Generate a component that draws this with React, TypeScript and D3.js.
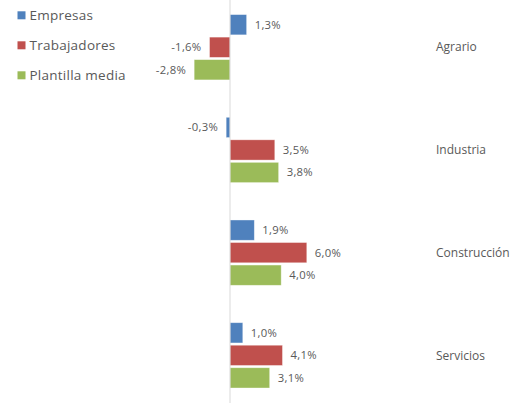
import React from "react";
import * as d3 from "d3";

const categories = ["Agrario", "Industria", "Construcción", "Servicios"];
const seriesNames = ["Empresas", "Trabajadores", "Plantilla media"];
const empresas = [1.3, -0.3, 1.9, 1.0];
const trabajadores = [-1.6, 3.5, 6.0, 4.1];
const plantilla = [-2.8, 3.8, 4.0, 3.1];
const seriesValues = [empresas, trabajadores, plantilla];
const colors = ["#4F81BD", "#C0504D", "#9BBB59"];

const W = 519;
const H = 403;
const FONT = "'Open Sans', Roboto, 'Liberation Sans', Arial, sans-serif";
const TEXT = "#595959";

export default function App() {
  const x = d3.scaleLinear().domain([0, 6]).range([230, 306.8]);
  const y0 = d3
    .scaleBand<string>()
    .domain(categories)
    .range([-4.1, 406.7])
    .paddingInner(0.364)
    .paddingOuter(0.182);
  const y1 = d3
    .scaleBand<string>()
    .domain(seriesNames)
    .range([0, y0.bandwidth()])
    .paddingInner(0.1)
    .paddingOuter(0);
  const fmt = (v: number) => d3.format(".1f")(v).replace(".", ",").replace("−", "-") + "%";

  return (
    <svg
      width={W}
      height={H}
      style={{ position: "absolute", left: 0, top: 0, display: "block", background: "#fff" }}
      fontFamily={FONT}
    >
      <rect width={W} height={H} fill="#fff" />
      {categories.map((c, ci) => (
        <g key={c} transform={`translate(0,${y0(c)})`}>
          {seriesNames.map((s, si) => {
            const v = seriesValues[si][ci];
            const bx = Math.min(x(0), x(v));
            const bw = Math.abs(x(v) - x(0));
            const by = y1(s)!;
            const bh = y1.bandwidth();
            const pos = v >= 0;
            return (
              <g key={s}>
                <rect
                  x={bx}
                  y={by}
                  width={bw}
                  height={bh}
                  fill={colors[si]}
                  stroke="#ffffff"
                  strokeOpacity={0.5}
                  strokeWidth={0.75}
                />
                <text
                  x={pos ? x(v) + 8 : x(v) - 8}
                  y={by + bh / 2}
                  dy="0.35em"
                  textAnchor={pos ? "start" : "end"}
                  fontSize={11.3}
                  letterSpacing={0.3}
                  fill={TEXT}
                >
                  {fmt(v)}
                </text>
              </g>
            );
          })}
          <text
            x={436}
            y={y0.bandwidth() / 2}
            dy="0.35em"
            fontSize={12}
            fill={TEXT}
          >
            {c}
          </text>
        </g>
      ))}
      <line x1={x(0)} x2={x(0)} y1={0} y2={H} stroke="#D9D9D9" strokeWidth={1} />
      {seriesNames.map((s, si) => (
        <g key={s} transform={`translate(17.5,${15.3 + si * 30})`}>
          <rect x={0} y={-4} width={8} height={8} fill={colors[si]} />
          <text x={12} y={0} dy="0.35em" fontSize={13.5} letterSpacing={0.25} fill={TEXT}>
            {s}
          </text>
        </g>
      ))}
    </svg>
  );
}
